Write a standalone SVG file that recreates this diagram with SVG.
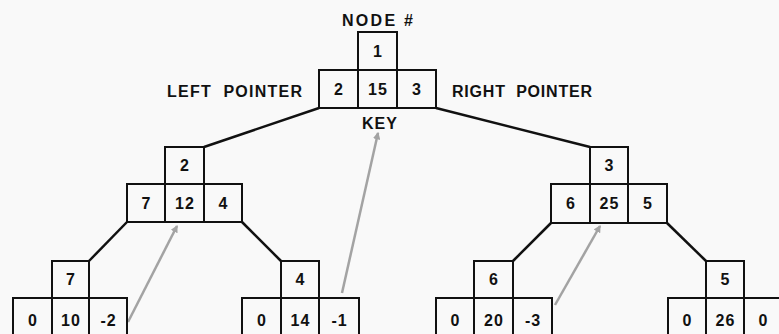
<svg xmlns="http://www.w3.org/2000/svg" width="779" height="334" viewBox="0 0 779 334">
<defs>
<style>
.bg{fill:#f9f9f9}
.box{fill:none;stroke:#111;stroke-width:2}
.con{stroke:#111;stroke-width:2.5;fill:none}
.ptr{stroke:#a3a3a3;stroke-width:2.5;fill:none}
.t{font-family:"Liberation Sans",Arial,sans-serif;font-weight:bold;font-size:16px;fill:#111;text-anchor:middle;letter-spacing:1px}
.lbl{font-family:"Liberation Sans",Arial,sans-serif;font-weight:bold;font-size:16px;fill:#111}
</style>
<marker id="ah" viewBox="0 0 6 6" refX="5" refY="3" markerWidth="3" markerHeight="3" orient="auto" markerUnits="strokeWidth">
<path d="M0,0 L6,3 L0,6 z" fill="#a3a3a3"/>
</marker>
</defs>
<rect class="bg" x="0" y="0" width="779" height="334"/>

<g id="labels">
<text class="lbl" x="342" y="26" textLength="71" lengthAdjust="spacing">NODE #</text>
<text class="lbl" x="167" y="97" textLength="135" lengthAdjust="spacing" xml:space="preserve">LEFT  POINTER</text>
<text class="lbl" x="452" y="97" textLength="140" lengthAdjust="spacing" xml:space="preserve">RIGHT  POINTER</text>
<text class="t" x="380" y="129">KEY</text>
</g>

<g id="connectors">
<line class="con" x1="319" y1="108" x2="204" y2="147"/>
<line class="con" x1="436" y1="108" x2="590" y2="147"/>
<line class="con" x1="127" y1="222" x2="89" y2="261"/>
<line class="con" x1="242" y1="222" x2="281" y2="261"/>
<line class="con" x1="551" y1="223" x2="513" y2="261"/>
<line class="con" x1="667" y1="223" x2="706" y2="261"/>
<line class="ptr" x1="342" y1="293" x2="378" y2="133" marker-end="url(#ah)"/>
<line class="ptr" x1="128" y1="322" x2="177" y2="226" marker-end="url(#ah)"/>
<line class="ptr" x1="555" y1="305" x2="600" y2="226" marker-end="url(#ah)"/>
</g>

<g id="node1">
<rect class="box" x="358" y="32" width="39" height="38"/>
<rect class="box" x="319" y="70" width="39" height="38"/>
<rect class="box" x="358" y="70" width="39" height="38"/>
<rect class="box" x="397" y="70" width="39" height="38"/>
<text class="t" x="378" y="57">1</text>
<text class="t" x="339" y="95">2</text>
<text class="t" x="378" y="95">15</text>
<text class="t" x="417" y="95">3</text>
</g>

<g id="node2">
<rect class="box" x="165" y="147" width="39" height="37"/>
<rect class="box" x="127" y="184" width="38" height="38"/>
<rect class="box" x="165" y="184" width="39" height="38"/>
<rect class="box" x="204" y="184" width="38" height="38"/>
<text class="t" x="185" y="171">2</text>
<text class="t" x="146.5" y="209">7</text>
<text class="t" x="185" y="209">12</text>
<text class="t" x="223.5" y="209">4</text>
</g>

<g id="node3">
<rect class="box" x="590" y="147" width="38" height="37"/>
<rect class="box" x="551" y="184" width="39" height="39"/>
<rect class="box" x="590" y="184" width="38" height="39"/>
<rect class="box" x="628" y="184" width="39" height="39"/>
<text class="t" x="609.5" y="171">3</text>
<text class="t" x="571" y="209">6</text>
<text class="t" x="609.5" y="209">25</text>
<text class="t" x="648" y="209">5</text>
</g>

<g id="node7">
<rect class="box" x="52" y="261" width="37" height="37"/>
<rect class="box" x="13" y="298" width="39" height="40"/>
<rect class="box" x="52" y="298" width="37" height="40"/>
<rect class="box" x="89" y="298" width="38" height="40"/>
<text class="t" x="71" y="285">7</text>
<text class="t" x="33" y="326">0</text>
<text class="t" x="71" y="326">10</text>
<text class="t" x="108.5" y="326">-2</text>
</g>

<g id="node4">
<rect class="box" x="281" y="261" width="38" height="37"/>
<rect class="box" x="242" y="298" width="39" height="40"/>
<rect class="box" x="281" y="298" width="38" height="40"/>
<rect class="box" x="319" y="298" width="40" height="40"/>
<text class="t" x="300.5" y="285">4</text>
<text class="t" x="262" y="326">0</text>
<text class="t" x="300.5" y="326">14</text>
<text class="t" x="339.5" y="326">-1</text>
</g>

<g id="node6">
<rect class="box" x="474" y="261" width="39" height="37"/>
<rect class="box" x="436" y="298" width="38" height="40"/>
<rect class="box" x="474" y="298" width="39" height="40"/>
<rect class="box" x="513" y="298" width="39" height="40"/>
<text class="t" x="494" y="285">6</text>
<text class="t" x="455.5" y="326">0</text>
<text class="t" x="494" y="326">20</text>
<text class="t" x="533" y="326">-3</text>
</g>

<g id="node5">
<rect class="box" x="706" y="261" width="38" height="37"/>
<rect class="box" x="668" y="298" width="38" height="40"/>
<rect class="box" x="706" y="298" width="38" height="40"/>
<rect class="box" x="744" y="298" width="39" height="40"/>
<text class="t" x="725.5" y="285">5</text>
<text class="t" x="687.5" y="326">0</text>
<text class="t" x="725.5" y="326">26</text>
<text class="t" x="763.5" y="326">0</text>
</g>
</svg>
